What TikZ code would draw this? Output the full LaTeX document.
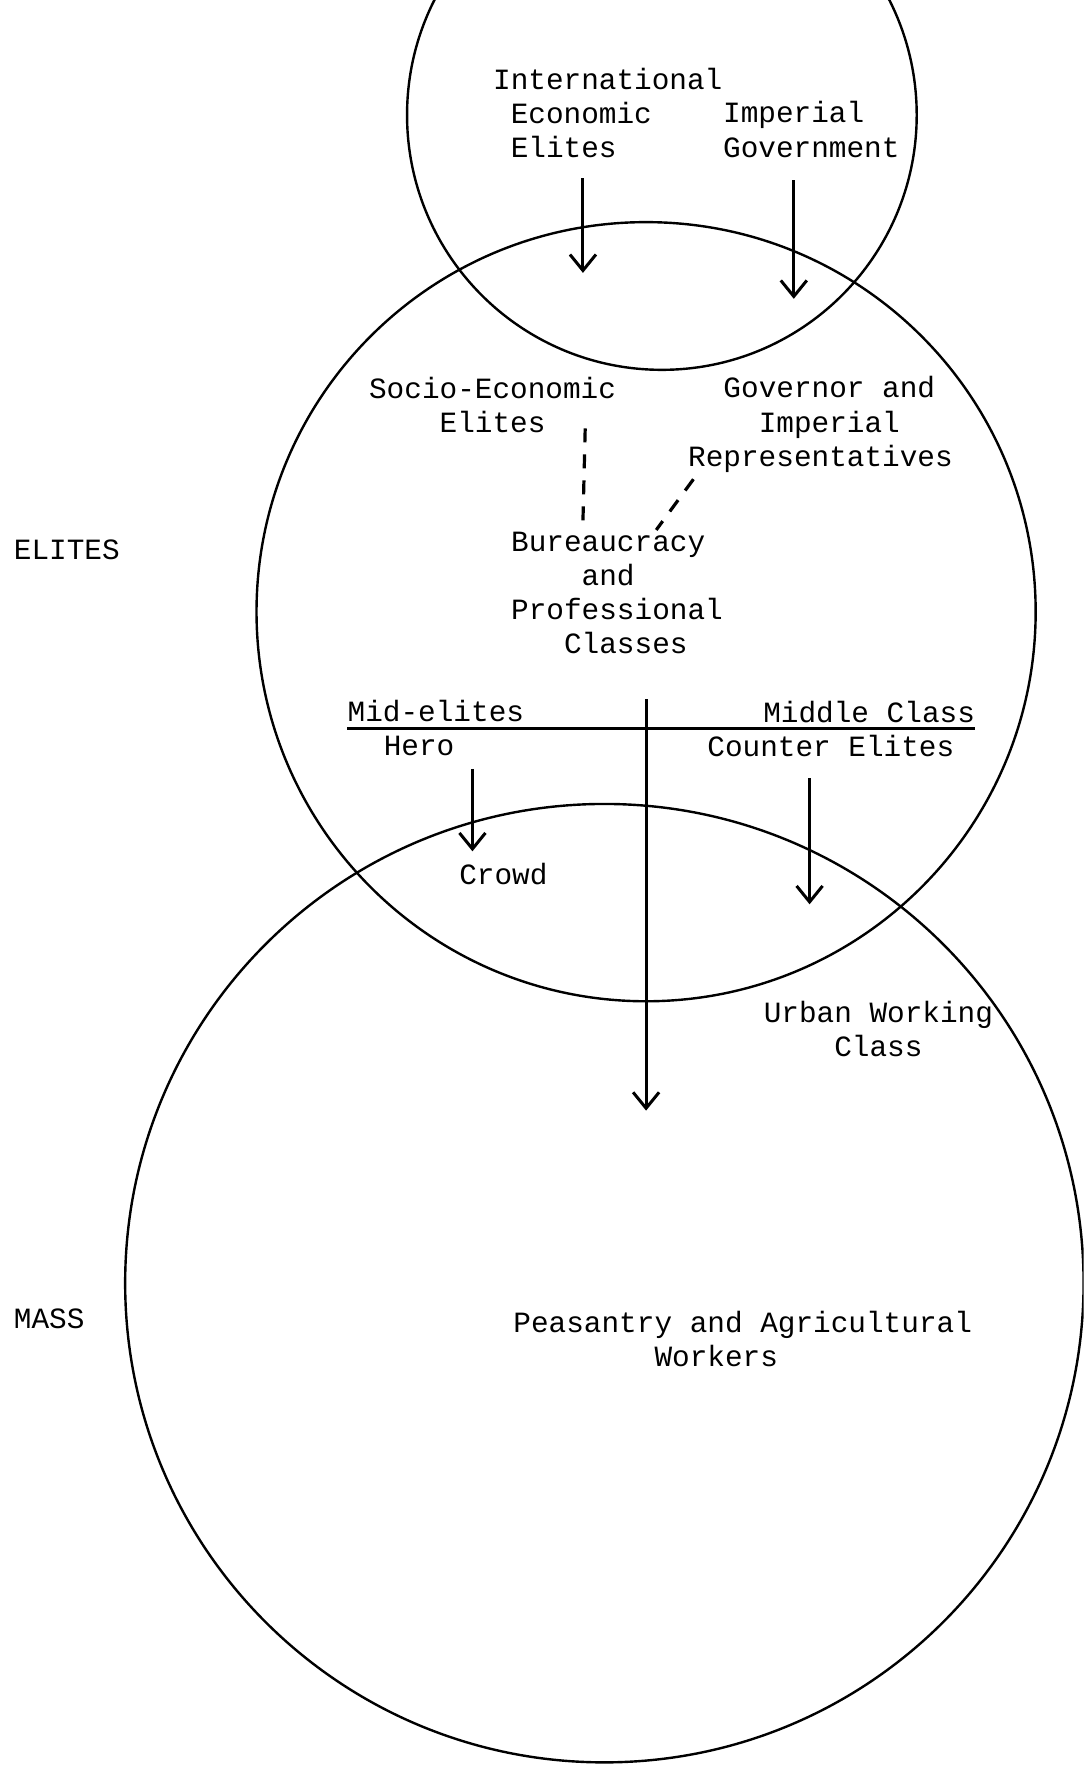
\documentclass[tikz,border=0pt]{standalone}
\usepackage{fontspec}
\newfontfamily\tw{Liberation Mono}
\usetikzlibrary{arrows.meta}
\begin{document}
\begin{tikzpicture}[x=0.564pt,y=-0.564pt,
  txt/.style={font=\tw\fontsize{14.7}{17.1}\selectfont, inner sep=0pt, align=left, anchor=base west},
  txtr/.style={txt, anchor=base east},
  ring/.style={draw, line width=1.2pt},
  flow/.style={line width=1.5pt, -{Straight Barb[length=8pt,width=13pt,line width=1.5pt]}},
  link/.style={line width=1.6pt, dash pattern=on 7pt off 6pt},
  rulel/.style={line width=1.3pt}]
\useasboundingbox (0,0) rectangle (961,1568);
\begin{scope}
\clip (0,0) rectangle (961,1568);
\draw[ring] (587,102) circle [radius=226];
\draw[ring] (573,542.5) circle [radius=345.5];
\draw[ring] (536,1138) circle [radius=425];
\end{scope}

% side labels
\node[txt] (elites) at (12,496) {ELITES};
\node[txt] (mass) at (12,1178) {MASS};

% top circle (node placed at baseline of last line)
\node[txt] (iee) at (437,139.6) {International\\\phantom{x}Economic\\\phantom{x}Elites};
\node[txt] (ig) at (641,139.3) {Imperial\\Government};

% middle circle
\node[txt] (see) at (327,383.3) {Socio-Economic\\\phantom{xxxx}Elites};
\node[txt] (gov) at (610,413.6) {\phantom{xx}Governor and\\\phantom{xxxx}Imperial\\Representatives};
\node[txt] (bur) at (453,579.9) {Bureaucracy\\\phantom{xxxx}and\\Professional\\\phantom{xxx}Classes};
\node[txt] (mide) at (308,640) {Mid-elites};
\node[txtr] (midc) at (865,641) {Middle Class};
\node[txt] (hero) at (340,670) {Hero};
\node[txt] (counter) at (627,671) {Counter Elites};
\node[txt] (crowd) at (407,784) {Crowd};
\node[txt] (urban) at (677,937.3) {Urban Working\\\phantom{xxxx}Class};
\node[txt] (peas) at (455,1212.3) {Peasantry and Agricultural\\\phantom{xxxxxxxx}Workers};

% connector end points
\coordinate (ieA) at (517,158);  \coordinate (ieB) at (517,242);
\coordinate (igA) at (704,160);  \coordinate (igB) at (704,265);
\coordinate (heA) at (419,682);  \coordinate (heB) at (419,755);
\coordinate (ceA) at (718,690);  \coordinate (ceB) at (718,802);
\coordinate (loA) at (573,620);  \coordinate (loB) at (573,985);
\coordinate (d1A) at (519,380);  \coordinate (d1B) at (517,462);
\coordinate (d2A) at (615,425);  \coordinate (d2B) at (582,470);
\coordinate (hlA) at (308,646);  \coordinate (hlB) at (865,646);

\draw[flow] (ieA) -- (ieB);
\draw[flow] (igA) -- (igB);
\draw[flow] (heA) -- (heB);
\draw[flow] (ceA) -- (ceB);
\draw[flow] (loA) -- (loB);
\draw[link] (d1A) -- (d1B);
\draw[link] (d2A) -- (d2B);
\draw[rulel] (hlA) -- (hlB);
\end{tikzpicture}
\end{document}
